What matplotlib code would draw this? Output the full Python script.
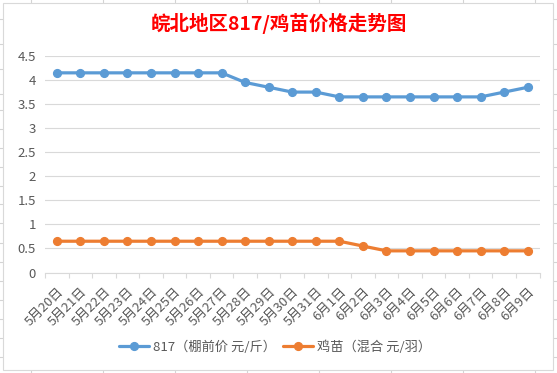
import matplotlib
matplotlib.use("Agg")
import matplotlib.pyplot as plt
from matplotlib.patches import Rectangle
from matplotlib.lines import Line2D

plt.rcParams['font.family'] = ['Noto Sans CJK SC', 'DejaVu Sans']

dates = ["5月20日", "5月21日", "5月22日", "5月23日", "5月24日", "5月25日", "5月26日",
         "5月27日", "5月28日", "5月29日", "5月30日", "5月31日", "6月1日", "6月2日",
         "6月3日", "6月4日", "6月5日", "6月6日", "6月7日", "6月8日", "6月9日"]
price_817 = [4.15, 4.15, 4.15, 4.15, 4.15, 4.15, 4.15, 4.15, 3.95, 3.85, 3.75, 3.75,
             3.65, 3.65, 3.65, 3.65, 3.65, 3.65, 3.65, 3.75, 3.85]
price_chick = [0.65, 0.65, 0.65, 0.65, 0.65, 0.65, 0.65, 0.65, 0.65, 0.65, 0.65, 0.65,
               0.65, 0.55, 0.45, 0.45, 0.45, 0.45, 0.45, 0.45, 0.45]
yticks = [0, 0.5, 1, 1.5, 2, 2.5, 3, 3.5, 4, 4.5]
ytick_labels = ["0", "0.5", "1", "1.5", "2", "2.5", "3", "3.5", "4", "4.5"]
label_817 = "817（棚前价 元/斤）"
label_chick = "鸡苗（混合 元/羽）"
title = "皖北地区817/鸡苗价格走势图"

W, H = 557, 373
fig = plt.figure(figsize=(W / 100, H / 100), dpi=100)
fig.patch.set_facecolor('white')

# spreadsheet cell lines behind the chart
cell_col = '#D4D4D4'
for xc in [30.7, 102.7, 174.7, 246.7, 318.7, 390.7, 462.7, 534.7]:
    fig.add_artist(Line2D([xc / W, xc / W], [0, 1], color=cell_col, lw=0.8, zorder=-2))
for yc in [18.5, 44, 68.5, 93.5, 110, 129, 148, 167, 186, 204, 223, 243, 262, 281,
           300, 319, 338, 357]:
    fig.add_artist(Line2D([0, 1], [1 - yc / H, 1 - yc / H], color=cell_col, lw=0.8, zorder=-2))
fig.add_artist(Rectangle((3 / W, 1 - 369.5 / H), (553 - 3) / W, (369.5 - 2.5) / H,
                         facecolor='white', edgecolor='#D9D9D9', lw=0.8, zorder=-1))

ax_left, ax_right, ax_top, ax_bottom = 45, 539.5, 56, 272.5
ax = fig.add_axes([ax_left / W, 1 - ax_bottom / H, (ax_right - ax_left) / W,
                   (ax_bottom - ax_top) / H])
ax.set_facecolor('none')
x = list(range(len(dates)))
ax.plot(x, price_817, color='#5B9BD5', lw=2.3, marker='o', ms=5.6, label=label_817,
        solid_capstyle='round', zorder=3)
ax.plot(x, price_chick, color='#ED7D31', lw=2.3, marker='o', ms=5.6, label=label_chick,
        solid_capstyle='round', zorder=3)

ax.set_xlim(-0.5, len(dates) - 0.5)
ax.set_ylim(0, 4.5)
ax.set_yticks(yticks)
ax.set_yticklabels(ytick_labels)
ax.yaxis.grid(True, color='#D9D9D9', lw=0.8)
ax.set_axisbelow(True)
for s in ['top', 'right', 'left']:
    ax.spines[s].set_visible(False)
ax.spines['bottom'].set_color('#D9D9D9')
ax.spines['bottom'].set_linewidth(0.8)
ax.tick_params(axis='y', length=0, colors='#595959', labelsize=9.5, pad=6.5)

ax.set_xticks(x)
ax.set_xticklabels(dates, rotation=45, ha='right', rotation_mode='anchor',
                   fontsize=9.5, color='#595959')
ax.tick_params(axis='x', which='major', length=0, pad=9)
ax.set_xticks([i - 0.5 for i in range(len(dates) + 1)], minor=True)
ax.tick_params(axis='x', which='minor', length=3.5, color='#D9D9D9', width=0.8)

fig.text(279 / W, 1 - 23 / H, title, ha='center', va='center', color='#FF0000',
         fontsize=14, fontweight='bold')

fig.legend(loc='center', bbox_to_anchor=(275 / W, 1 - 347 / H), ncol=2, frameon=False,
           fontsize=9.5, labelcolor='#595959', handlelength=2.3, columnspacing=0.5,
           handletextpad=0.3)

fig.savefig('out.png', dpi=100)
